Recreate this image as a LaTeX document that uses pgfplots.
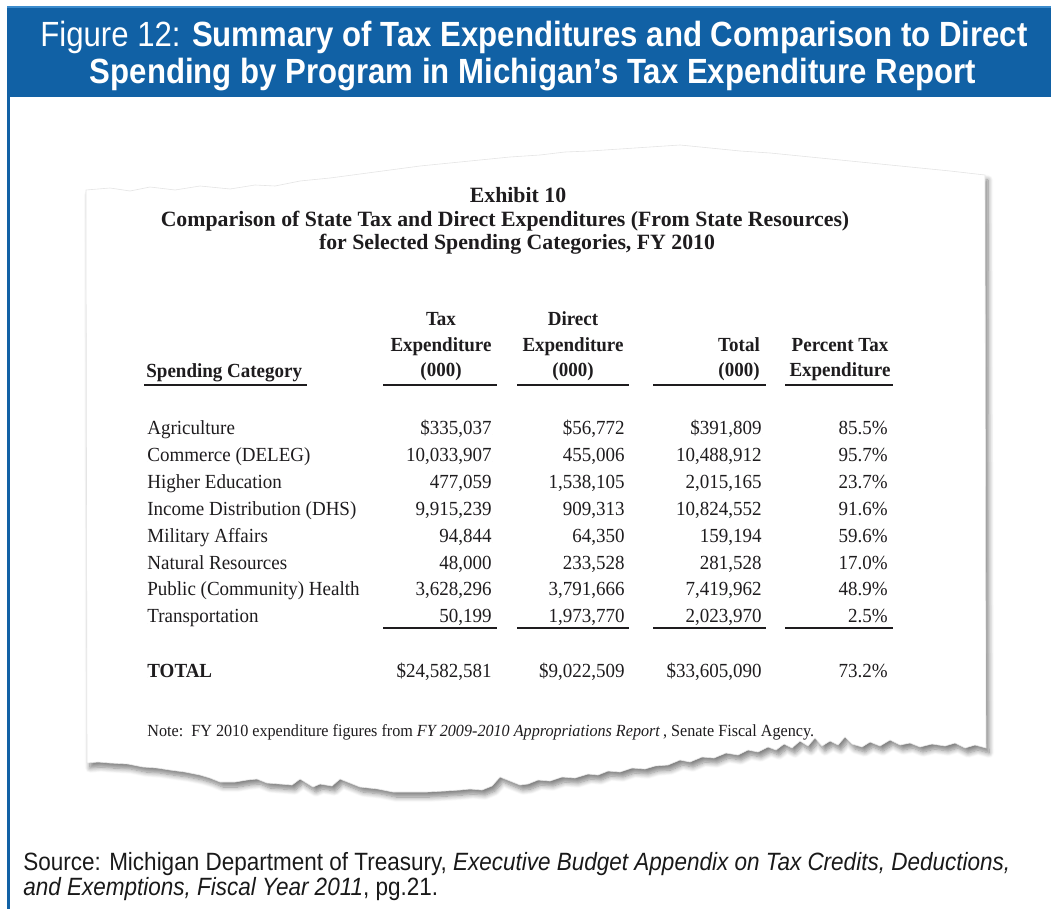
\documentclass[border=0pt]{standalone}
\usepackage{pgfplots}
\pgfplotsset{compat=1.18}
\usepackage{pgfplotstable}
\usepackage{fontspec}
\usetikzlibrary{shadows.blur}
\setmainfont{Liberation Serif}
\newfontfamily\tabfont[FakeStretch=0.95]{Liberation Serif}
\newfontfamily\banfont[FakeStretch=0.89]{Liberation Sans}
\newfontfamily\srcfont[FakeStretch=0.9]{Liberation Sans}
\definecolor{banner}{RGB}{17,97,165}
\definecolor{bannerlight}{RGB}{60,140,205}
\definecolor{txt}{RGB}{30,28,30}

\pgfplotstableread{
y cat tax direct total pct
435 Agriculture {\$335,037} {\$56,772} {\$391,809} {85.5\%}
462 {Commerce (DELEG)} {10,033,907} {455,006} {10,488,912} {95.7\%}
489 {Higher Education} {477,059} {1,538,105} {2,015,165} {23.7\%}
516 {Income Distribution (DHS)} {9,915,239} {909,313} {10,824,552} {91.6\%}
543 {Military Affairs} {94,844} {64,350} {159,194} {59.6\%}
569 {Natural Resources} {48,000} {233,528} {281,528} {17.0\%}
596 {Public (Community) Health} {3,628,296} {3,791,666} {7,419,962} {48.9\%}
623 Transportation {50,199} {1,973,770} {2,023,970} {2.5\%}
}\rows

\pgfplotstableread{
y cat tax direct total pct
677 {\textbf{TOTAL}} {\$24,582,581} {\$9,022,509} {\$33,605,090} {73.2\%}
}\totals

\pgfplotsset{
  tabcol/.style={only marks, mark=*, mark size=0pt, mark options={draw=none,fill=none},
    nodes near coords, point meta=explicit symbolic,
    every node near coord/.append style={anchor=base #1, inner sep=0pt,
      font=\tabfont\fontsize{10}{12}\selectfont, text=txt}},
}

\begin{document}
\begin{tikzpicture}
\begin{axis}[
  scale only axis, x=0.5pt, y=0.5pt,
  xmin=0, xmax=1051, ymin=0, ymax=909, y dir=reverse,
  axis lines=none, clip=false,
]
% frame extent
\addplot[draw=none] coordinates {(0,0) (1051,909)};
% left border and banner
\addplot[fill=banner, draw=none] coordinates {(7,8) (10,8) (10,909) (7,909)} -- cycle;
\addplot[fill=bannerlight, draw=none] coordinates {(7,6) (1051,6) (1051,8) (7,8)} -- cycle;
\addplot[fill=banner, draw=none] coordinates {(7,8) (1051,8) (1051,97) (7,97)} -- cycle;

% torn paper
\addplot[fill=white, draw=black!10, line width=0.3pt,
  blur shadow={shadow xshift=1.5pt, shadow yshift=-2.5pt, shadow blur steps=8, shadow opacity=50, shadow blur radius=2.5pt}]
coordinates {
(86,190) (110,188) (130,191) (150,187) (175,190) (200,186) (230,189) (255,185)
(275,186) (300,181) (330,178) (360,174) (390,170) (420,166) (450,163) (480,160)
(510,157) (540,155) (565,152) (590,151) (620,149) (650,147) (680,145) (710,148)
(740,151) (770,153) (800,156) (830,159) (860,162) (890,165) (920,168) (950,171) (985,175)
(986,748) (975,745) (965,748) (955,743) (945,746) (932,744) (920,747) (910,743)
(900,745) (890,740) (880,746) (870,742) (862,747) (852,744) (845,737) (838,745)
(830,741) (822,746) (815,738) (808,746) (800,741) (792,748) (784,744) (776,750)
(768,747) (758,752) (748,750) (738,755) (726,753) (714,758) (702,757) (690,762)
(680,760) (668,765) (655,766) (645,769) (632,768) (620,772) (608,771) (598,775)
(588,774) (575,778) (562,777) (550,781) (538,780) (528,784) (520,785) (510,781)
(500,777) (492,786) (482,790) (470,789) (460,790) (445,791) (427,792) (410,792)
(393,792) (378,789) (360,787) (350,783) (340,779) (332,786) (320,784) (313,787)
(305,782) (300,779) (292,785) (280,784) (267,783) (257,779) (247,780) (235,782)
(220,782) (210,778) (200,775) (185,772) (170,770) (157,768) (143,767) (128,764)
(110,763) (98,762) (87,763)
} -- cycle;

% exhibit title
\node[anchor=base, text=txt, font=\fontsize{10.9}{13}\selectfont\bfseries] at (axis cs:518,203) {Exhibit 10};
\node[anchor=base, text=txt, font=\fontsize{10.9}{13}\selectfont\bfseries] at (axis cs:505,227) {Comparison of State Tax and Direct Expenditures (From State Resources)};
\node[anchor=base, text=txt, font=\fontsize{10.9}{13}\selectfont\bfseries] at (axis cs:517,250) {for Selected Spending Categories, FY 2010};

% headers
\begin{scope}[every node/.style={anchor=base, text=txt, inner sep=0pt, font=\tabfont\fontsize{10}{12}\selectfont\bfseries}]
\node[anchor=base west] at (axis cs:146,378) {Spending Category};
\node at (axis cs:441,326) {Tax};
\node at (axis cs:441,352) {Expenditure};
\node at (axis cs:441,377) {(000)};
\node at (axis cs:573,326) {Direct};
\node at (axis cs:573,352) {Expenditure};
\node at (axis cs:573,377) {(000)};
\node at (axis cs:739,352) {Total};
\node at (axis cs:739,377) {(000)};
\node at (axis cs:840,352) {Percent Tax};
\node at (axis cs:840,377) {Expenditure};
\end{scope}

% header underlines and column rules
\addplot[txt, line width=1pt, unbounded coords=jump] coordinates {
(144,385) (307,385) (nan,nan)
(383,385) (497,385) (nan,nan)
(517,385) (629,385) (nan,nan)
(653,385) (766,385) (nan,nan)
(785,385) (893,385)
};
\addplot[txt, line width=1pt, unbounded coords=jump] coordinates {
(383,628) (497,628) (nan,nan)
(517,628) (629,628) (nan,nan)
(653,628) (766,628) (nan,nan)
(785,628) (893,628)
};

% table body
\addplot[tabcol=west] table[x expr=147, y=y, meta=cat] {\rows};
\addplot[tabcol=east] table[x expr=492, y=y, meta=tax] {\rows};
\addplot[tabcol=east] table[x expr=625, y=y, meta=direct] {\rows};
\addplot[tabcol=east] table[x expr=762, y=y, meta=total] {\rows};
\addplot[tabcol=east] table[x expr=888, y=y, meta=pct] {\rows};

\addplot[tabcol=west] table[x expr=147, y=y, meta=cat] {\totals};
\addplot[tabcol=east] table[x expr=492, y=y, meta=tax] {\totals};
\addplot[tabcol=east] table[x expr=625, y=y, meta=direct] {\totals};
\addplot[tabcol=east] table[x expr=762, y=y, meta=total] {\totals};
\addplot[tabcol=east] table[x expr=888, y=y, meta=pct] {\totals};

% note
\node[anchor=base west, text=txt, inner sep=0pt, font=\tabfont\fontsize{8.5}{10}\selectfont] at (axis cs:147,736)
  {Note:\ \ FY 2010 expenditure figures from \textit{FY 2009-2010 Appropriations Report}\,, Senate Fiscal Agency.};

% banner title
\node[anchor=base, text=white, inner sep=0pt, font=\banfont\fontsize{17.5}{21}\selectfont] at (axis cs:534,47)
  {Figure 12: \textbf{Summary of Tax Expenditures and Comparison to Direct}};
\node[anchor=base, text=white, inner sep=0pt, font=\banfont\fontsize{17.5}{21}\selectfont\bfseries] at (axis cs:533,84)
  {Spending by Program in Michigan’s Tax Expenditure Report};

% source
\node[anchor=base west, text=black!90, inner sep=0pt, font=\srcfont\fontsize{12.5}{15}\selectfont] at (axis cs:23,870)
  {Source: Michigan Department of Treasury, \textit{Executive Budget Appendix on Tax Credits, Deductions,}};
\node[anchor=base west, text=black!90, inner sep=0pt, font=\srcfont\fontsize{12.5}{15}\selectfont] at (axis cs:23,895)
  {\textit{and Exemptions, Fiscal Year 2011}, pg.21.};
\end{axis}
\end{tikzpicture}
\end{document}
